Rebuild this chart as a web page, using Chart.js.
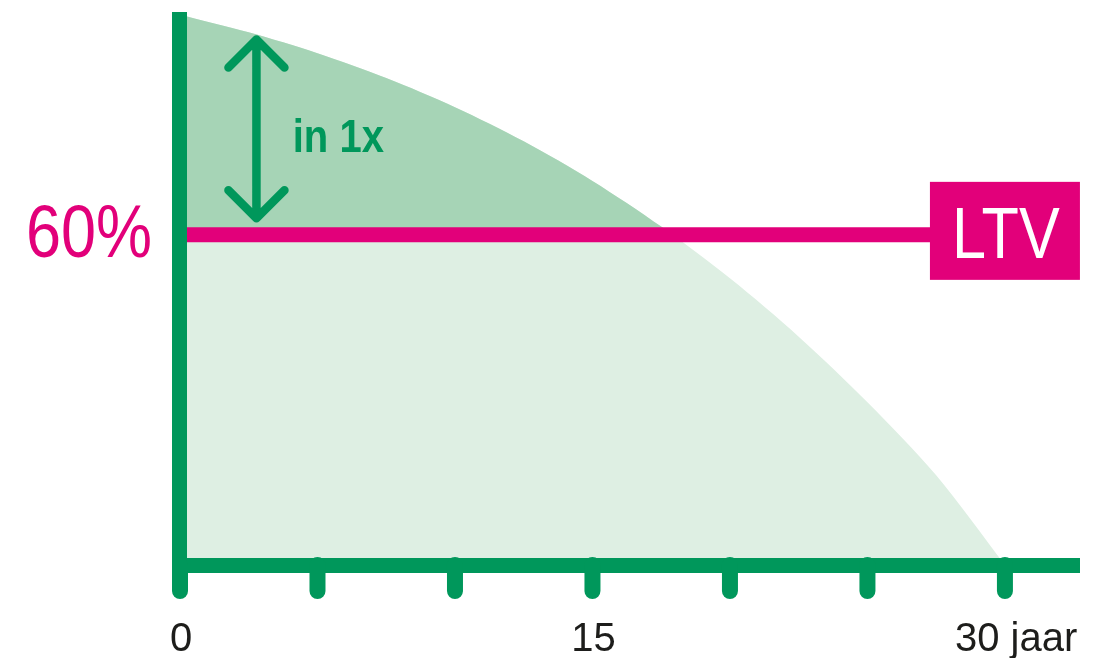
<!DOCTYPE html>
<html>
<head>
<meta charset="utf-8">
<script src="https://cdn.jsdelivr.net/npm/chart.js@4"></script>
<style>
  body { margin: 0; background: #fff; }
  #wrap { width: 1110px; height: 658px; }
</style>
</head>
<body>
<div id="wrap"><canvas id="myChart"></canvas></div>
<script>
var jaren = [0, 2.5, 5, 7.5, 10, 12.5, 15, 17.5, 20, 22.5, 25, 27.5, 30];
var restschuld = [100, 96.8, 93.0, 88.5, 83.2, 77.0, 69.8, 61.5, 52.1, 41.5, 29.6, 16.3, 0];
var ltv = 60; // LTV grens in %
var tickJaren = [0, 5, 10, 15, 20, 25, 30];
var tickLabels = ['0', '', '', '15', '', '', '30 jaar'];

var groen = '#00975b';
var donkerGroen = '#a6d4b6';
var lichtGroen = '#deefe3';
var roze = '#e2007a';

var curve = jaren.map(function (j, i) { return { x: j, y: restschuld[i] }; });

// smalle tekst: geen narrow font beschikbaar, dus horizontaal schalen
function smalleTekst(ctx, tekst, x, y, sx, align) {
  var w = ctx.measureText(tekst).width * sx;
  var left = x;
  if (align === 'right') left = x - w;
  if (align === 'center') left = x - w / 2;
  ctx.save();
  ctx.textAlign = 'left';
  ctx.translate(left, y);
  ctx.scale(sx, 1);
  ctx.fillText(tekst, 0, 0);
  ctx.restore();
}

var tekenPlugin = {
  id: 'teken',
  afterDatasetsDraw: function (chart) {
    var ctx = chart.ctx;
    var xs = chart.scales.x;
    var ys = chart.scales.y;
    var area = chart.chartArea;
    var x0 = xs.getPixelForValue(0);
    var y0 = ys.getPixelForValue(0);
    var yLtv = ys.getPixelForValue(ltv);

    ctx.save();

    // assen
    ctx.fillStyle = groen;
    ctx.fillRect(x0 - 8, area.top, 15, y0 - area.top);
    ctx.fillRect(x0 - 8, y0 - 7, area.right - x0 + 8, 15);

    // tick streepjes
    ctx.strokeStyle = groen;
    ctx.lineWidth = 16;
    ctx.lineCap = 'round';
    tickJaren.forEach(function (t) {
      var px = xs.getPixelForValue(t);
      ctx.beginPath();
      ctx.moveTo(px, y0);
      ctx.lineTo(px, y0 + 26);
      ctx.stroke();
    });

    // tick labels
    ctx.fillStyle = '#1d1d1b';
    ctx.font = '40px "Liberation Sans", Arial, sans-serif';
    ctx.textBaseline = 'alphabetic';
    tickJaren.forEach(function (t, i) {
      if (!tickLabels[i]) return;
      var px = xs.getPixelForValue(t);
      if (i === tickJaren.length - 1) {
        smalleTekst(ctx, tickLabels[i], px - 50, y0 + 86, 1.0, 'left');
      } else {
        smalleTekst(ctx, tickLabels[i], px + 1, y0 + 86, 1.0, 'center');
      }
    });

    // 60% label
    ctx.fillStyle = roze;
    ctx.font = '75px "Liberation Sans", Arial, sans-serif';
    smalleTekst(ctx, ltv + '%', x0 - 28, yLtv + 22, 0.84, 'right');

    // LTV blok
    var bx = xs.getPixelForValue(30);
    ctx.fillRect(bx - 75, yLtv - 53, 150, 98);
    ctx.fillStyle = '#fff';
    ctx.font = '72px "Liberation Sans", Arial, sans-serif';
    smalleTekst(ctx, 'LTV', bx + 1, yLtv + 23, 0.85, 'center');

    // dubbele pijl
    var ax = xs.getPixelForValue(2.78);
    var aTop = ys.getPixelForValue(95.5);
    var aBot = ys.getPixelForValue(63);
    ctx.strokeStyle = groen;
    ctx.lineWidth = 8.5;
    ctx.lineCap = 'round';
    ctx.lineJoin = 'round';
    ctx.beginPath();
    ctx.moveTo(ax, aTop);
    ctx.lineTo(ax, aBot);
    ctx.moveTo(ax - 28, aTop + 28);
    ctx.lineTo(ax, aTop);
    ctx.lineTo(ax + 28, aTop + 28);
    ctx.moveTo(ax - 28, aBot - 28);
    ctx.lineTo(ax, aBot);
    ctx.lineTo(ax + 28, aBot - 28);
    ctx.stroke();

    ctx.fillStyle = groen;
    ctx.font = 'bold 46px "Liberation Sans", Arial, sans-serif';
    smalleTekst(ctx, 'in 1x', xs.getPixelForValue(4.1), ys.getPixelForValue(75), 0.87, 'left');

    ctx.restore();
  }
};

new Chart(document.getElementById('myChart'), {
  type: 'line',
  data: {
    datasets: [
      {
        label: 'LTV',
        data: [{ x: 0, y: ltv }, { x: 27.3, y: ltv }],
        borderColor: roze,
        borderWidth: 15,
        pointRadius: 0,
        fill: false,
        order: 1
      },
      {
        label: 'boven LTV',
        data: curve,
        borderWidth: 0,
        pointRadius: 0,
        tension: 0.3,
        fill: { target: { value: ltv }, above: donkerGroen, below: 'rgba(0,0,0,0)' },
        order: 2
      },
      {
        label: 'restschuld',
        data: curve,
        borderWidth: 0,
        pointRadius: 0,
        tension: 0.3,
        backgroundColor: lichtGroen,
        fill: 'origin',
        order: 3
      }
    ]
  },
  options: {
    responsive: true,
    maintainAspectRatio: false,
    animation: false,
    layout: { padding: { left: 180, right: 30, top: 12, bottom: 93 } },
    plugins: { legend: { display: false }, tooltip: { enabled: false } },
    scales: {
      x: { type: 'linear', min: 0, max: 32.73, display: false },
      y: { min: 0, max: 100.5, display: false }
    }
  },
  plugins: [tekenPlugin]
});
</script>
</body>
</html>
